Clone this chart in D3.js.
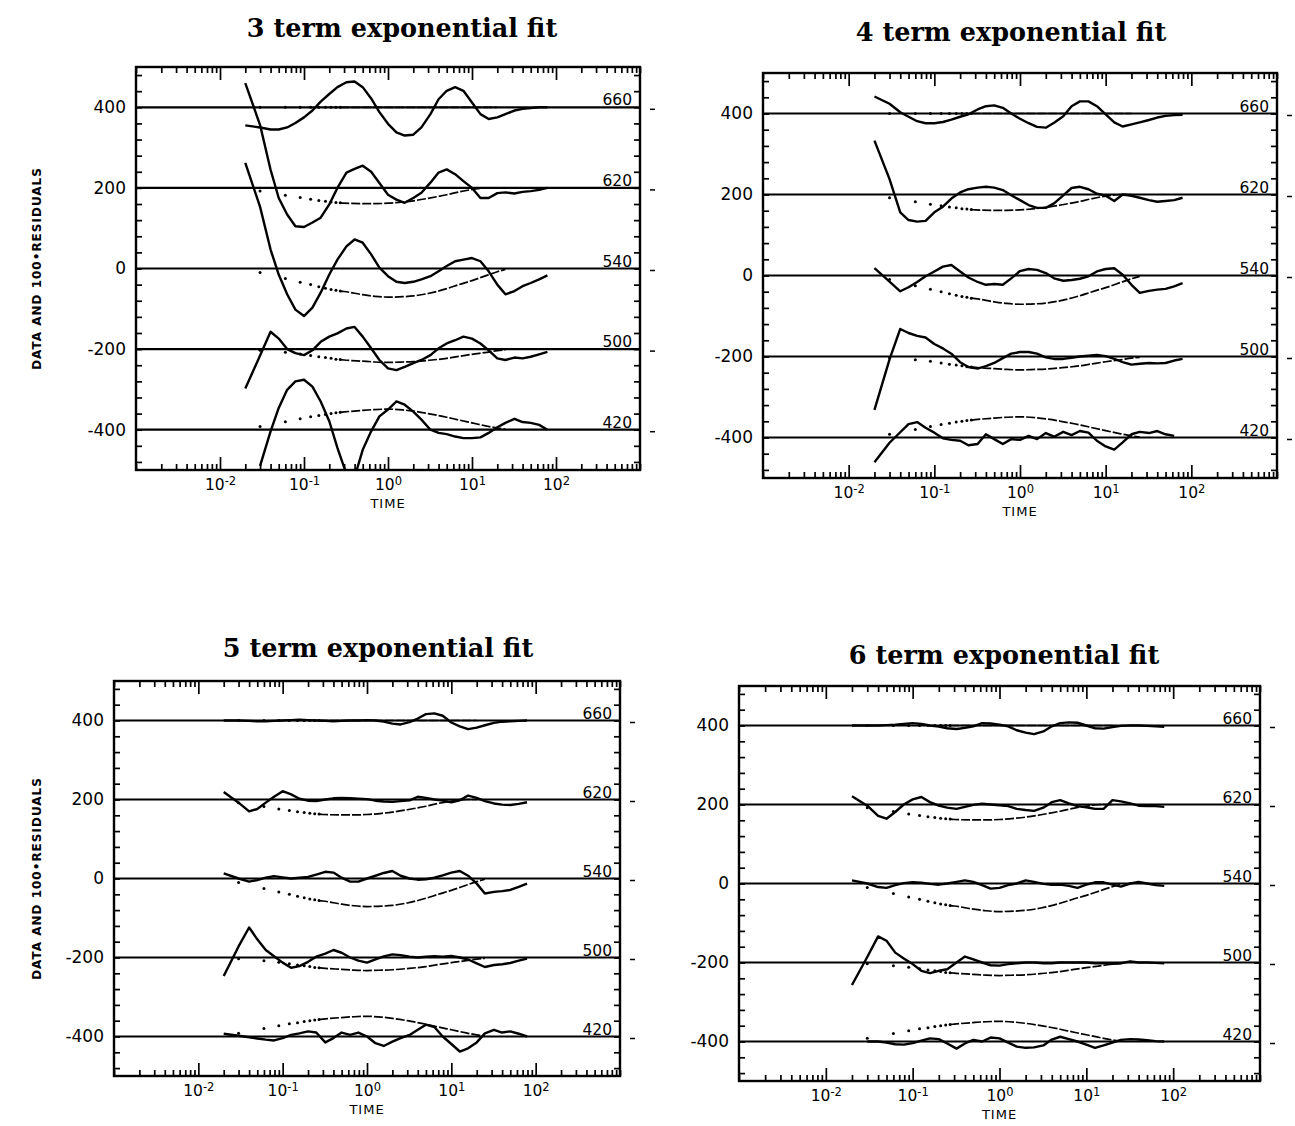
<!DOCTYPE html>
<html>
<head>
<meta charset="utf-8">
<script src="https://cdn.jsdelivr.net/npm/d3@7"></script>
<style>
  body { margin: 0; background: #fff; }
  svg { display: block; }
  .title { font-family: 'DejaVu Serif', serif; font-weight: bold; font-size: 25.5px; }
  .axis text { font-family: 'DejaVu Sans', sans-serif; font-size: 17px; fill: #000; }
  .axis line { stroke: #000; stroke-width: 1.7px; }
  .wl { font-family: 'DejaVu Sans', sans-serif; font-size: 15.5px; }
  .xlab { font-family: 'DejaVu Sans', sans-serif; font-size: 13px; letter-spacing: 1px; }
  .ylab { font-family: 'DejaVu Sans', sans-serif; font-weight: bold; font-size: 12px; letter-spacing: 1px; }
</style>
</head>
<body>
<svg></svg>
<script>
// sample times of the residual traces
let times = [0.02, 0.03, 0.04, 0.05, 0.063, 0.079, 0.1, 0.126, 0.158, 0.2, 0.25, 0.32, 0.4, 0.5, 0.63, 0.79,
  1, 1.26, 1.58, 2, 2.5, 3.2, 4, 5, 6.3, 7.9, 10, 12.6, 15.8, 20, 25, 32, 40, 50, 63, 79]

let wavelengths = ['660', '620', '540', '500', '420']
let offsets = [400, 200, 0, -200, -400]
let titles = ['3 term exponential fit', '4 term exponential fit', '5 term exponential fit', '6 term exponential fit']

// 100*residuals, one row per wavelength (660, 620, 540, 500, 420)
let resid3 = [
  [-45, -50, -55, -55, -50, -39, -25, -8, 14, 33, 50, 62, 64, 50, 22, -12, -41, -62, -70, -68, -50, -17, 20, 41, 50, 41, 12, -17, -29, -25, -17, -8, -4, -2, 0, 0],
  [260, 156, 45, -25, -66, -95, -97, -86, -74, -41, 0, 38, 47, 55, 40, 12, -17, -29, -37, -25, -12, 13, 38, 46, 34, 17, 0, -25, -25, -13, -11, -14, -10, -8, -5, 0],
  [262, 153, 47, -15, -64, -102, -118, -97, -60, -15, 22, 55, 72, 64, 35, 2, -19, -33, -36, -33, -27, -19, -7, 6, 18, 22, 26, 18, -7, -40, -64, -56, -44, -36, -27, -17],
  [-98, -16, 43, 26, 0, -10, -15, -3, 18, 31, 39, 51, 55, 31, 2, -27, -48, -52, -44, -35, -27, -15, 2, 14, 22, 31, 26, 14, -3, -23, -27, -21, -23, -19, -13, -7],
  [null, -90, -4, 54, 99, 120, 124, 107, 70, 21, -45, -110, -118, -50, -4, 33, 50, 70, 62, 45, 25, 0, -8, -11, -17, -21, -21, -19, -8, 6, 17, 27, 19, 17, 12, 0]
]
let resid4 = [
  [42, 24, 3, -8, -19, -24, -24, -21, -15, -8, -2, 10, 18, 20, 14, 0, -13, -24, -33, -35, -23, -7, 18, 30, 30, 18, -2, -22, -32, -27, -22, -16, -10, -6, -4, -3],
  [133, 38, -44, -63, -67, -65, -44, -30, -10, 5, 13, 17, 19, 17, 11, -2, -14, -26, -33, -33, -22, -2, 16, 19, 13, 2, -3, -16, 0, -3, -8, -14, -18, -16, -14, -8],
  [18, -15, -39, -29, -16, -2, 10, 22, 26, 10, -5, -16, -23, -21, -23, -7, 11, 16, 14, 6, -7, -13, -11, -8, -2, 10, 16, 18, 2, -23, -43, -38, -35, -33, -27, -19],
  [-132, -7, 68, 58, 51, 47, 31, 20, 7, -14, -26, -30, -24, -16, -4, 7, 11, 11, 7, -2, -6, -6, -3, 0, 2, 4, 1, -6, -14, -20, -18, -16, -17, -16, -10, -6],
  [-61, -13, 13, 33, 38, 24, 12, -2, -6, -8, -19, -16, 8, -4, -16, -4, -6, 4, -4, 11, 2, 14, 6, 16, 12, -8, -22, -30, -12, 8, 14, 11, 16, 8, 4, null]
]
let resid5 = [
  [0, 0, -1, -2, -2, -1, 0, 1, 2, 1, 0, -1, -2, -1, 0, 0, 1, 0, -3, -8, -10, -4, 5, 16, 18, 12, -5, -15, -22, -18, -12, -6, -3, -2, -1, 0],
  [19, -8, -30, -24, -8, 7, 21, 13, 2, -3, -4, 0, 3, 4, 3, 2, 1, -3, -5, -6, -4, -2, 7, 4, 0, -3, -7, -2, 10, 4, -4, -10, -13, -14, -11, -7],
  [13, 0, -8, -4, 2, 6, 3, 0, 2, 4, 10, 17, 15, 2, -8, -8, 0, 7, 14, 19, 7, 0, -3, -2, 2, 8, 15, 19, 7, -13, -38, -34, -32, -29, -21, -13],
  [-47, 28, 76, 46, 19, 3, -13, -26, -22, -11, 2, 10, 19, 12, 0, -8, -13, -5, 3, 8, 6, 2, 0, 2, 3, 2, 4, 0, -5, -15, -24, -19, -17, -14, -8, -3],
  [7, 2, -2, -5, -8, -10, -4, 4, 8, 13, 10, -15, -4, 10, 4, 10, 0, -17, -24, -13, -4, 4, 17, 30, 24, 0, -19, -38, -30, -15, 8, 17, 10, 13, 7, 0]
]
let resid6 = [
  [0, 0, 0, 1, 2, 4, 6, 4, 0, -3, -7, -9, -6, -2, 6, 5, 2, -2, -12, -18, -22, -15, -2, 6, 8, 7, 0, -7, -8, -4, -1, 0, 0, -1, -2, -3],
  [21, -3, -29, -36, -19, 0, 13, 19, 6, -3, -8, -11, -6, -1, 2, 0, -2, -4, -11, -14, -16, -8, 6, 11, 3, -4, -7, -11, -11, 11, 8, 3, -3, -4, -4, -6],
  [8, 0, -9, -11, -4, 1, 3, 2, -1, -3, 0, 4, 8, 4, -4, -13, -11, -4, 0, 8, 4, -1, -3, -3, -6, -11, -3, 3, 3, -3, -8, 0, 4, 0, -4, -6],
  [-57, 14, 66, 55, 25, 10, -4, -21, -27, -21, -17, 0, 15, 8, 0, -7, -8, -4, -2, 0, 0, -2, -2, 0, 0, 0, 0, -2, -2, -3, -2, 3, 0, 0, -1, -2],
  [null, 0, 0, -3, -7, -8, -4, 2, 8, 6, -5, -18, -5, 4, 0, 10, 8, -3, -13, -16, -15, -10, 5, 12, 6, 0, -8, -16, -10, -3, 4, 6, 5, 3, 1, 0]
]
let residuals = [resid3, resid4, resid5, resid6]

// the data traces (same in every panel), sampled sparsely at early times
let curveTimes = [0.03, 0.06, 0.09, 0.12, 0.15, 0.18, 0.21, 0.24, 0.27, 0.3, 0.5, 0.7, 1, 1.5, 2, 3, 5, 7, 10, 15, 20, 25]
let dataCurves = [
  [0, 0, 0, 0, 0, 0, 0, 0, 0, 0, 0, 0, 0, 0, 0, 0, 0, 0, 0, 0, 0, null],
  [-8, -18, -24, -28, -31, -33, -35, -36, -37, -38, -39, -39, -38, -35, -32, -26, -17, -10, -4, 0, 0, null],
  [-10, -25, -34, -40, -45, -49, -52, -54, -56, -57, -65, -69, -71, -70, -68, -62, -50, -40, -30, -17, -8, -2],
  [-3, -8, -12, -16, -19, -21, -23, -25, -26, -27, -30, -32, -33, -32, -31, -28, -23, -18, -13, -8, -4, -2],
  [8, 20, 27, 32, 35, 38, 40, 42, 43, 44, 48, 50, 51, 49, 46, 40, 31, 24, 17, 9, 4, 1]
]
let dotLimit = 0.3

let xMajor = [1e-2, 1e-1, 1, 10, 100]
let xExponents = ['-2', '-1', '0', '1', '2']
let yTicks = d3.range(-480, 481, 40)

// frame of every panel on the page
let panels = [
  { left: 136, right: 640, top: 67, bottom: 470, titleX: 402, titleY: 37 },
  { left: 763, right: 1277, top: 73, bottom: 478, titleX: 1011, titleY: 41 },
  { left: 114, right: 620, top: 681, bottom: 1076, titleX: 378, titleY: 657 },
  { left: 739, right: 1260, top: 686, bottom: 1081, titleX: 1004, titleY: 664 }
]

let width = 1295
let height = 1126

let svg = d3.select('svg').attr('width', width).attr('height', height)

let drawPanel = (p, i) => {
  let g = svg.append('g')

  let xScale = d3.scaleLog().domain([1e-3, 1e3]).range([p.left, p.right])
  let yScale = d3.scaleLinear().domain([-500, 500]).range([p.bottom, p.top])

  let minorTicks = xScale.ticks().filter(t => !xMajor.includes(t))

  g.append('text')
    .attr('class', 'title')
    .attr('x', p.titleX)
    .attr('y', p.titleY)
    .attr('text-anchor', 'middle')
    .text(titles[i])

  // bottom axis: minor ticks, then labelled decades
  g.append('g').attr('class', 'axis')
    .attr('transform', 'translate(0,' + p.bottom + ')')
    .call(d3.axisBottom(xScale).tickValues(minorTicks).tickSize(-6).tickSizeOuter(0).tickFormat(''))
  let bottomMajor = g.append('g').attr('class', 'axis')
    .attr('transform', 'translate(0,' + p.bottom + ')')
    .call(d3.axisBottom(xScale).tickValues(xMajor).tickSize(-13).tickSizeOuter(0).tickPadding(9).tickFormat(''))
  bottomMajor.selectAll('.tick text').each(function (d, k) {
    let t = d3.select(this).style('font-size', '15.5px')
    t.append('tspan').text('10')
    t.append('tspan').attr('dy', '-0.45em').style('font-size', '11.5px').text(xExponents[k])
  })

  // top axis
  g.append('g').attr('class', 'axis')
    .attr('transform', 'translate(0,' + p.top + ')')
    .call(d3.axisTop(xScale).tickValues(minorTicks).tickSize(-6).tickSizeOuter(0).tickFormat(''))
  g.append('g').attr('class', 'axis')
    .attr('transform', 'translate(0,' + p.top + ')')
    .call(d3.axisTop(xScale).tickValues(xMajor).tickSize(-13).tickSizeOuter(0).tickFormat(''))

  // left and right axes
  g.append('g').attr('class', 'axis')
    .attr('transform', 'translate(' + p.left + ',0)')
    .call(d3.axisLeft(yScale).tickValues(yTicks).tickSize(-6).tickSizeOuter(0).tickPadding(10)
      .tickFormat(d => d % 200 === 0 && Math.abs(d) <= 400 ? String(d) : ''))
  g.append('g').attr('class', 'axis')
    .attr('transform', 'translate(' + p.right + ',0)')
    .call(d3.axisRight(yScale).tickValues(yTicks).tickSize(-6).tickSizeOuter(0).tickFormat(''))

  g.selectAll('.domain').remove()

  g.append('rect')
    .attr('x', p.left).attr('y', p.top)
    .attr('width', p.right - p.left).attr('height', p.bottom - p.top)
    .attr('fill', 'none').attr('stroke', '#000').attr('stroke-width', 2.4)

  g.append('text')
    .attr('class', 'xlab')
    .attr('x', xScale(1))
    .attr('y', p.bottom + 38)
    .attr('text-anchor', 'middle')
    .text('TIME')

  if (i % 2 === 0) {
    let cy = (p.top + p.bottom) / 2
    g.append('text')
      .attr('class', 'ylab')
      .attr('transform', 'translate(41,' + cy + ') rotate(-90)')
      .attr('text-anchor', 'middle')
      .text('DATA AND 100\u2022RESIDUALS')
  }

  let clipId = 'clip' + i
  g.append('clipPath').attr('id', clipId)
    .append('rect')
    .attr('x', p.left).attr('y', p.top)
    .attr('width', p.right - p.left).attr('height', p.bottom - p.top)

  let plot = g.append('g').attr('clip-path', 'url(#' + clipId + ')')

  offsets.forEach((off, w) => {
    let base = yScale(off)

    g.append('line')
      .attr('x1', p.left).attr('x2', p.right)
      .attr('y1', base).attr('y2', base)
      .attr('stroke', '#000').attr('stroke-width', 2.2)

    g.append('text')
      .attr('class', 'wl')
      .attr('x', p.right - 8)
      .attr('y', base - 2)
      .attr('text-anchor', 'end')
      .text(wavelengths[w])

    g.append('line')
      .attr('x1', p.right + 10).attr('x2', p.right + 15)
      .attr('y1', base + 2).attr('y2', base + 2)
      .attr('stroke', '#000').attr('stroke-width', 1.5)

    // data trace: dots early, dashed line later
    let pts = curveTimes.map((t, k) => ({ t: t, v: dataCurves[w][k] })).filter(d => d.v !== null)
    plot.selectAll(null)
      .data(pts.filter(d => d.t < dotLimit))
      .enter()
      .append('circle')
      .attr('cx', d => xScale(d.t))
      .attr('cy', d => yScale(off + d.v))
      .attr('r', 1.5)
      .attr('fill', '#000')

    let dataLine = d3.line()
      .x(d => xScale(d.t))
      .y(d => yScale(off + d.v))
      .curve(d3.curveMonotoneX)
    plot.append('path')
      .datum(pts.filter(d => d.t >= 0.27))
      .attr('d', dataLine)
      .attr('fill', 'none')
      .attr('stroke', '#000')
      .attr('stroke-width', 1.7)
      .attr('stroke-dasharray', '9,2')

    // residual trace
    let res = times.map((t, k) => ({ t: t, v: residuals[i][w][k] }))
    let resLine = d3.line()
      .defined(d => d.v !== null)
      .x(d => xScale(d.t))
      .y(d => yScale(off + d.v))
    plot.append('path')
      .datum(res)
      .attr('d', resLine)
      .attr('fill', 'none')
      .attr('stroke', '#000')
      .attr('stroke-width', 2.4)
      .attr('stroke-linejoin', 'round')
  })
}

panels.forEach(drawPanel)
</script>
</body>
</html>
